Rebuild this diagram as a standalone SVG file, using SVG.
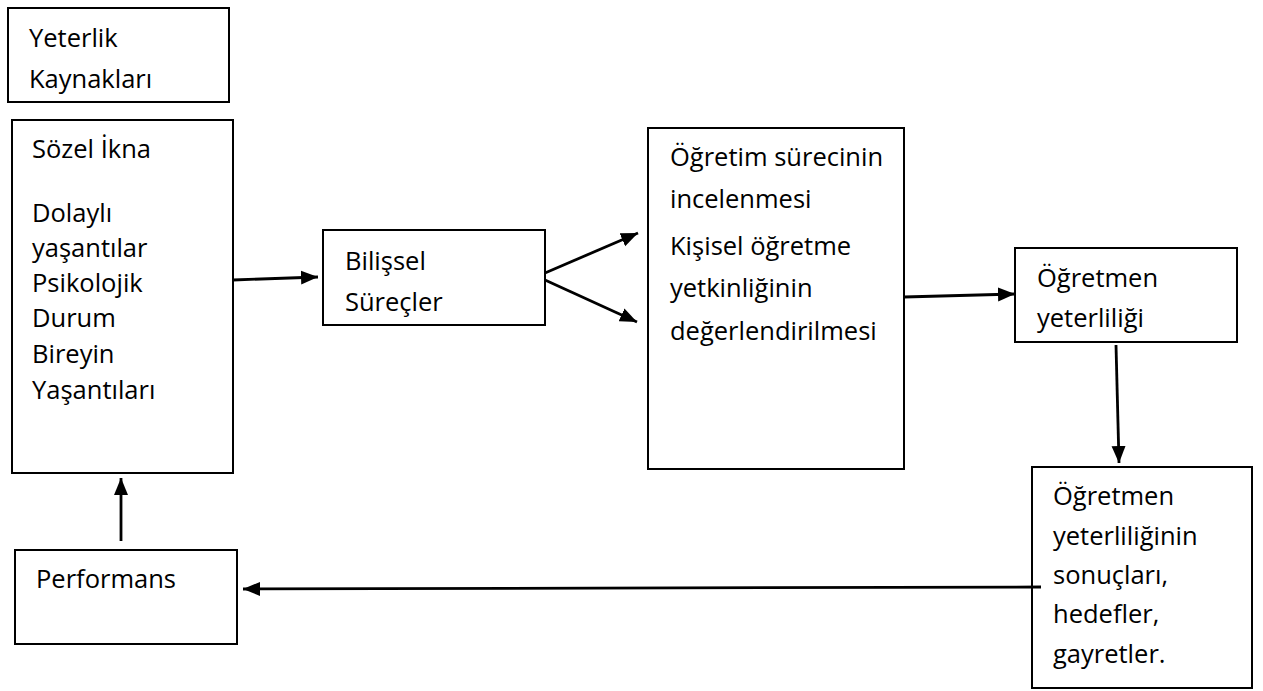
<svg xmlns="http://www.w3.org/2000/svg" width="1263" height="691" viewBox="0 0 1263 691">
<style>
.box{fill:#fff;stroke:#000;stroke-width:2}
.t{font-family:"Open Sans","Noto Sans","DejaVu Sans",sans-serif;font-size:25.5px;fill:#000}
.c{stroke:#000;stroke-width:2.8;fill:none;marker-end:url(#ah)}
</style>
<defs>
<marker id="ah" markerUnits="userSpaceOnUse" markerWidth="18" markerHeight="16" refX="17" refY="8" orient="auto">
<path d="M0,1 L17,8 L0,15 z" fill="#000"/>
</marker>
</defs>
<rect width="1263" height="691" fill="#fff"/>
<g id="n-kaynaklar">
<rect class="box" x="8" y="8" width="221" height="94"/>
<text class="t" x="29" y="47">Yeterlik</text>
<text class="t" x="29" y="88">Kaynakları</text>
</g>
<g id="n-kaynak-listesi">
<rect class="box" x="12" y="120" width="221" height="353"/>
<text class="t" x="32" y="158">Sözel İkna</text>
<text class="t" x="32" y="222">Dolaylı</text>
<text class="t" x="32" y="257">yaşantılar</text>
<text class="t" x="32" y="292">Psikolojik</text>
<text class="t" x="32" y="327">Durum</text>
<text class="t" x="32" y="363">Bireyin</text>
<text class="t" x="32" y="399">Yaşantıları</text>
</g>
<g id="n-bilissel">
<rect class="box" x="323" y="230" width="222" height="95"/>
<text class="t" x="345" y="270">Bilişsel</text>
<text class="t" x="345" y="311">Süreçler</text>
</g>
<g id="n-ogretim">
<rect class="box" x="648" y="128" width="256" height="341"/>
<text class="t" x="670" y="166">Öğretim sürecinin</text>
<text class="t" x="670" y="208">incelenmesi</text>
<text class="t" x="670" y="255">Kişisel öğretme</text>
<text class="t" x="670" y="297">yetkinliğinin</text>
<text class="t" x="670" y="340">değerlendirilmesi</text>
</g>
<g id="n-yeterlilik">
<rect class="box" x="1015" y="248" width="222" height="94"/>
<text class="t" x="1037" y="287">Öğretmen</text>
<text class="t" x="1037" y="327">yeterliliği</text>
</g>
<g id="n-sonuclar">
<rect class="box" x="1032" y="467" width="220" height="221"/>
<text class="t" x="1053" y="505">Öğretmen</text>
<text class="t" x="1053" y="545">yeterliliğinin</text>
<text class="t" x="1053" y="584">sonuçları,</text>
<text class="t" x="1053" y="623">hedefler,</text>
<text class="t" x="1053" y="663">gayretler.</text>
</g>
<g id="n-performans">
<rect class="box" x="15" y="550" width="222" height="94"/>
<text class="t" x="36" y="588">Performans</text>
</g>
<g id="connectors">
<line class="c" x1="233" y1="280" x2="318" y2="277"/>
<line class="c" x1="545" y1="273" x2="638" y2="233"/>
<line class="c" x1="545" y1="280" x2="637" y2="322"/>
<line class="c" x1="904" y1="297" x2="1015" y2="294"/>
<line class="c" x1="1116" y1="345" x2="1119" y2="463"/>
<line class="c" x1="1041" y1="587" x2="243" y2="589"/>
<line class="c" x1="121" y1="541" x2="121" y2="478"/>
</g>
</svg>
